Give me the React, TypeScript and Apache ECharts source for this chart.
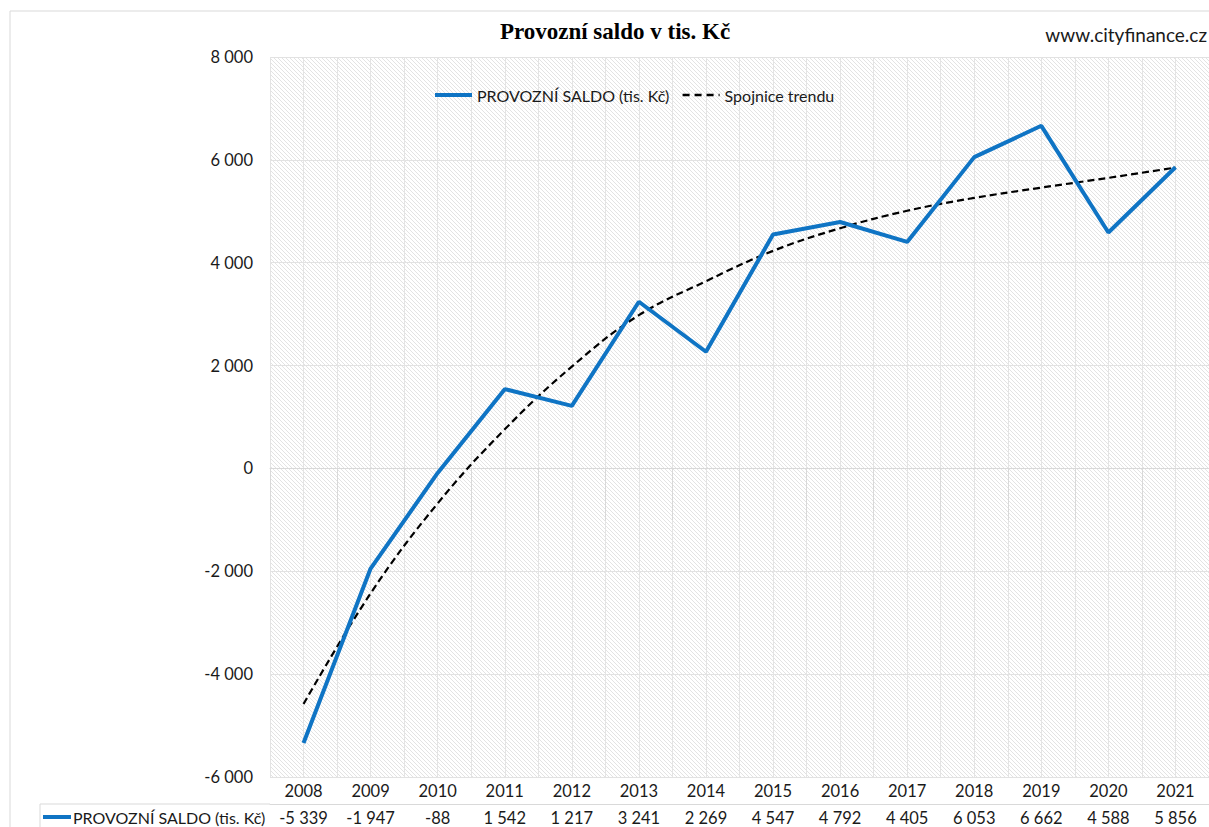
import React, { useEffect, useRef } from "react";
import * as echarts from "echarts";

const YEARS = ["2008", "2009", "2010", "2011", "2012", "2013", "2014", "2015", "2016", "2017", "2018", "2019", "2020", "2021"];
const SALDO = [-5339, -1947, -88, 1542, 1217, 3241, 2269, 4547, 4792, 4405, 6053, 6662, 4588, 5856];
const TREND = [-4580, -2430, -680, 760, 1980, 2980, 3640, 4230, 4670, 5010, 5260, 5460, 5650, 5850];
const Y_MIN = -6000;
const Y_MAX = 8000;
const Y_STEP = 2000;

const TITLE = "Provozní saldo v tis. Kč";
const SOURCE = "www.cityfinance.cz";
const SERIES_NAME = "PROVOZNÍ SALDO (tis. Kč)";
const TREND_NAME = "Spojnice trendu";

const BLUE = "#0F74C4";
const FONT = "Lato";

function fmt(v: number): string {
  const s = Math.abs(v).toString().replace(/\B(?=(\d{3})+(?!\d))/g, " ");
  return (v < 0 ? "-" : "") + s;
}

function makeHatch(): HTMLCanvasElement {
  const c = document.createElement("canvas");
  c.width = 4;
  c.height = 4;
  const ctx = c.getContext("2d")!;
  ctx.fillStyle = "#ffffff";
  ctx.fillRect(0, 0, 4, 4);
  ctx.strokeStyle = "#e3e3e3";
  ctx.lineWidth = 1;
  ctx.beginPath();
  ctx.moveTo(-1, -1);
  ctx.lineTo(5, 5);
  ctx.moveTo(-1, 3);
  ctx.lineTo(1, 5);
  ctx.moveTo(3, -1);
  ctx.lineTo(5, 1);
  ctx.stroke();
  return c;
}

export default function App() {
  const ref = useRef<HTMLDivElement>(null);

  useEffect(() => {
    document.body.style.margin = "0";
    const chart = echarts.init(ref.current!, null, { renderer: "svg" });
    const hatch = makeHatch();
    const nLines = (Y_MAX - Y_MIN) / Y_STEP + 1;
    const splitColors: string[] = [];
    for (let i = 0; i < nLines; i++) {
      splitColors.push(Y_MIN + i * Y_STEP === 0 ? "#3c3c3c" : "#e2e2e2");
    }

    const option: any = {
      animation: false,
      backgroundColor: "#ffffff",
      textStyle: { fontFamily: FONT },
      title: {
        text: TITLE,
        left: 615,
        textAlign: "center",
        top: 20,
        padding: 0,
        textStyle: { fontFamily: "Liberation Serif", fontWeight: "bold", fontSize: 23, color: "#000" },
      },
      legend: {
        left: 433,
        top: 87,
        padding: 0,
        itemWidth: 37,
        itemHeight: 16,
        itemGap: 12,
        itemStyle: { opacity: 0 },
        textStyle: { fontFamily: FONT, fontSize: 16, color: "#1a1a1a" },
        data: [
          { name: SERIES_NAME, lineStyle: { width: 4, color: BLUE } },
          { name: TREND_NAME, lineStyle: { width: 2.5, color: "#000", type: [7, 5] } },
        ],
      },
      grid: {
        left: 270,
        top: 57,
        width: 946,
        height: 720,
        show: true,
        borderWidth: 0,
        backgroundColor: { image: hatch, repeat: "repeat", imageWidth: 4, imageHeight: 4 },
      },
      xAxis: [
        {
          type: "category",
          data: YEARS,
          position: "bottom",
          boundaryGap: true,
          axisLine: { show: true, lineStyle: { color: "#d9d9d9", width: 1 } },
          axisTick: { show: true, length: 52, lineStyle: { color: "#d9d9d9" } },
          axisLabel: { fontFamily: FONT, fontSize: 16.5, color: "#1a1a1a", margin: 5 },
          splitLine: { show: false },
        },
        {
          type: "category",
          data: SALDO.map(fmt),
          position: "bottom",
          offset: 27,
          boundaryGap: true,
          axisLine: { show: true, lineStyle: { color: "#d9d9d9", width: 1 } },
          axisTick: { show: false },
          axisLabel: { fontFamily: FONT, fontSize: 16.5, color: "#1a1a1a", margin: 5 },
          splitLine: { show: false },
        },
        {
          type: "value",
          min: 0,
          max: YEARS.length * 2,
          interval: 1,
          position: "top",
          axisLine: { show: false },
          axisTick: { show: false },
          axisLabel: { show: false },
          splitLine: { show: true, lineStyle: { color: "#e4e4e4", width: 1 } },
        },
      ],
      yAxis: {
        type: "value",
        min: Y_MIN,
        max: Y_MAX,
        interval: Y_STEP,
        axisLine: { show: false },
        axisTick: { show: false },
        axisLabel: {
          fontFamily: FONT,
          fontSize: 16.5,
          color: "#1a1a1a",
          margin: 17,
          formatter: (v: number) => fmt(v),
        },
        splitLine: { show: true, lineStyle: { color: splitColors, width: 1 } },
      },
      series: [
        {
          name: SERIES_NAME,
          type: "line",
          xAxisIndex: 0,
          data: SALDO,
          symbol: "none",
          lineStyle: { color: BLUE, width: 4 },
          itemStyle: { color: BLUE, opacity: 0 },
          z: 3,
        },
        {
          name: TREND_NAME,
          type: "line",
          xAxisIndex: 0,
          data: TREND,
          symbol: "none",
          smooth: 0.4,
          lineStyle: { color: "#000000", width: 2.2, type: [7, 4] },
          itemStyle: { color: "#000000", opacity: 0 },
          z: 2,
        },
      ],
      graphic: [
        {
          type: "rect",
          shape: { x: 10, y: 11, width: 1400, height: 1000 },
          style: { fill: "none", stroke: "#d9d9d9", lineWidth: 1 },
          silent: true,
          z: -1,
        },
        {
          type: "text",
          right: 2,
          top: 25,
          style: { text: SOURCE, fontFamily: FONT, fontSize: 19, fill: "#1a1a1a" },
        },
        {
          type: "line",
          shape: { x1: 40, y1: 804, x2: 270, y2: 804 },
          style: { stroke: "#d9d9d9", lineWidth: 1 },
        },
        {
          type: "line",
          shape: { x1: 40, y1: 804, x2: 40, y2: 830 },
          style: { stroke: "#d9d9d9", lineWidth: 1 },
        },
        {
          type: "line",
          shape: { x1: 43, y1: 817, x2: 71, y2: 817 },
          style: { stroke: BLUE, lineWidth: 4 },
        },
        {
          type: "text",
          x: 73,
          y: 817,
          style: {
            text: SERIES_NAME,
            fontFamily: FONT,
            fontSize: 16,
            fill: "#1a1a1a",
            verticalAlign: "middle",
          },
        },
      ],
    };
    chart.setOption(option);
    return () => chart.dispose();
  }, []);

  return <div ref={ref} style={{ width: 1209, height: 827 }} />;
}
